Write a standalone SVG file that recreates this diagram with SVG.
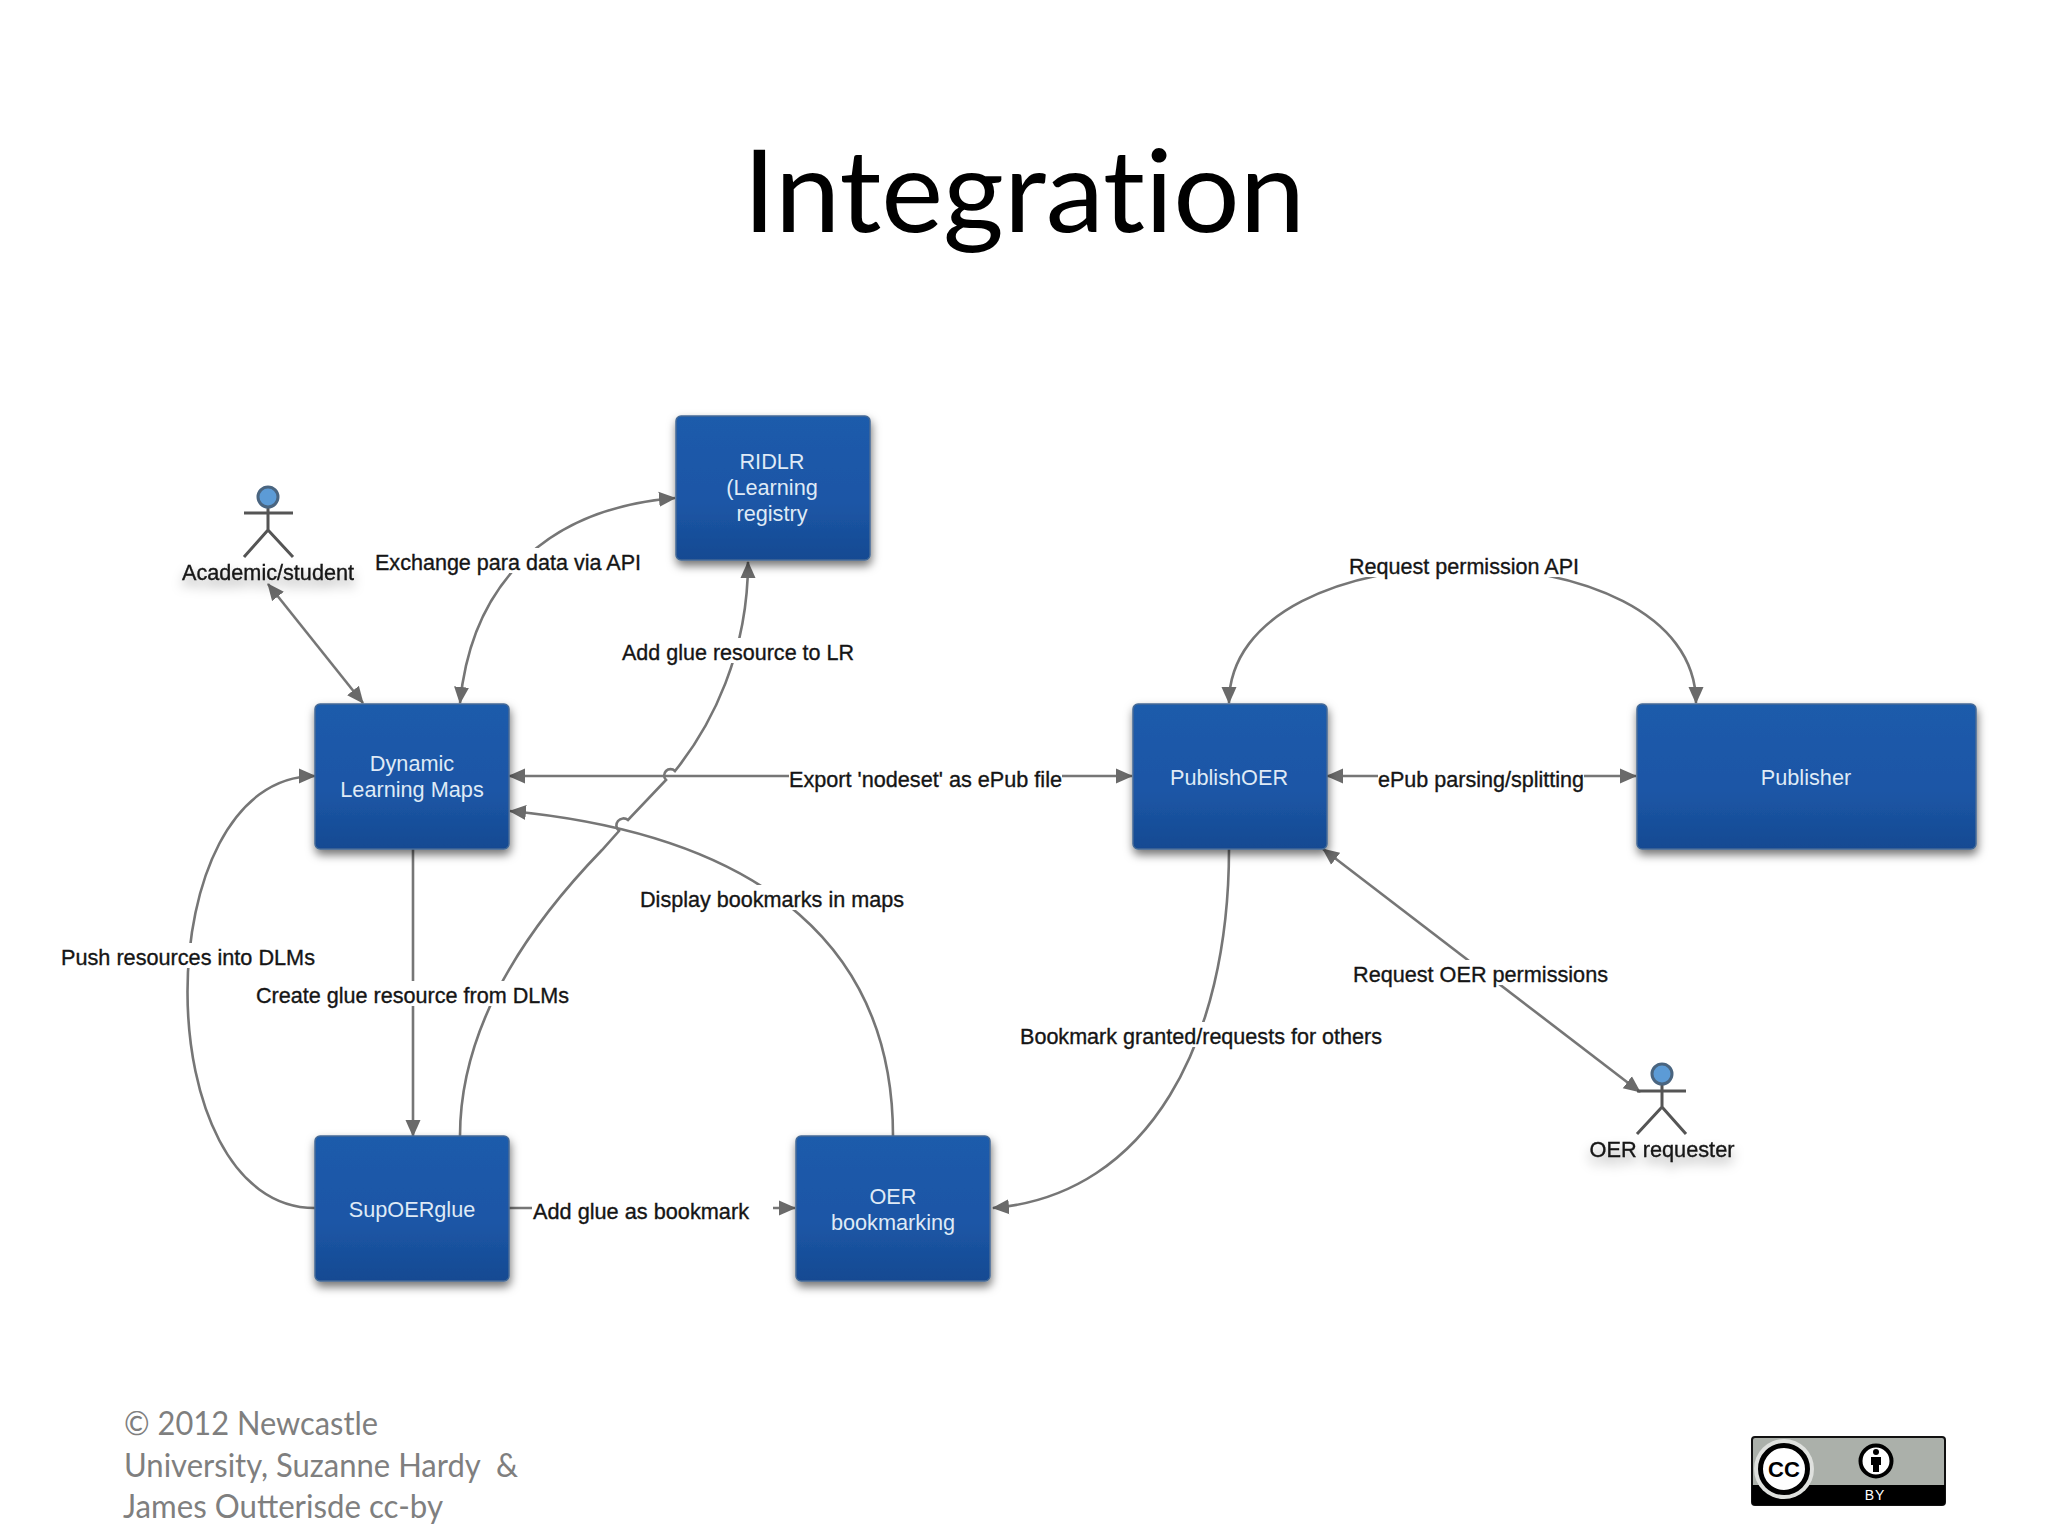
<svg xmlns="http://www.w3.org/2000/svg" width="2048" height="1536" viewBox="0 0 2048 1536">
<style>
.box{fill:url(#bg);stroke:#456a96;stroke-width:1.5;filter:url(#sh)}
.w{font:21.7px "Liberation Sans",Arial,sans-serif;fill:#dfeaf6;text-anchor:middle}
.l{font:22px "Liberation Sans",Arial,sans-serif;fill:#151515;stroke:#151515;stroke-width:.35}
.c{fill:none;stroke:#767676;stroke-width:2.6}
.a{marker-end:url(#ah)}
.b{marker-start:url(#as);marker-end:url(#ah)}
.bgr{fill:#fff}
.act{fill:none;stroke:#555;stroke-width:3}
.head{fill:#5c9bd6;stroke:#4a6580;stroke-width:3}
.f{font:32px "Lato","Open Sans",sans-serif;fill:#7f7f7f}
</style>
<defs>
<linearGradient id="bg" x1="0" y1="0" x2="0" y2="1"><stop offset="0" stop-color="#1f5bab"/><stop offset=".6" stop-color="#1c56a6"/><stop offset="1" stop-color="#154a92"/></linearGradient>
<filter id="sh" x="-15%" y="-15%" width="130%" height="135%"><feDropShadow dx="1" dy="5" stdDeviation="5" flood-color="#000" flood-opacity=".55"/></filter>
<filter id="ts" x="-15%" y="-40%" width="130%" height="220%"><feDropShadow dx="0" dy="7" stdDeviation="6" flood-color="#000" flood-opacity=".35"/></filter>
<marker id="ah" markerUnits="userSpaceOnUse" markerWidth="18" markerHeight="16" refX="16" refY="8" orient="auto"><path d="M0 0.5L17 8L0 15.5Z" fill="#6a6a6a"/></marker>
<marker id="as" markerUnits="userSpaceOnUse" markerWidth="18" markerHeight="16" refX="2" refY="8" orient="auto"><path d="M18 0.5L1 8L18 15.5Z" fill="#6a6a6a"/></marker>
</defs>
<rect width="2048" height="1536" fill="#fff"/>
<text id="title" x="1024" y="232" textLength="562" lengthAdjust="spacingAndGlyphs" text-anchor="middle" style="font:115px 'Lato','Open Sans',sans-serif;font-variant-ligatures:none;fill:#000">Integration</text>
<g id="connectors">
<path class="c a" d="M460 1136C460 1040 510 945 602 850L619 831A5 5 0 0 1 628 820L666 780A5.5 5.5 0 0 1 675 771C712 725 748 653 748 562"/>
<path class="c a" d="M893 1136C893 953 770 836 510 811"/>
<path class="c b" d="M460 703C470 600 530 510 675 498"/>
<path class="c a" d="M315 1208C145 1208 145 776 315 776"/>
<path class="c a" d="M413 849V1136"/>
<path class="c a" d="M509 1208H795"/>
<path class="c b" d="M509 776H1132"/>
<path class="c b" d="M1327 776H1636"/>
<path class="c b" d="M1229 703C1229 522 1696 522 1696 703"/>
<path class="c a" d="M1229 849C1229 1040 1150 1195 993 1208"/>
<path class="c b" d="M1323 849L1640 1092"/>
<path class="c b" d="M268 584L363 703"/>
<rect class="bgr" x="375" y="548" width="266" height="25"/>
<rect class="bgr" x="622" y="638" width="232" height="25"/>
<rect class="bgr" x="640" y="885" width="264" height="25"/>
<rect class="bgr" x="61" y="943" width="254" height="25"/>
<rect class="bgr" x="256" y="981" width="313" height="25"/>
<rect class="bgr" x="532" y="1198" width="241" height="25"/>
<rect class="bgr" x="789" y="765" width="273" height="25"/>
<rect class="bgr" x="1378" y="765" width="206" height="25"/>
<rect class="bgr" x="1349" y="553" width="231" height="24"/>
<rect class="bgr" x="1353" y="960" width="255" height="25"/>
<rect class="bgr" x="1020" y="1022" width="362" height="25"/>
</g>
<g id="labels">
<text class="l" x="375" y="570" textLength="266" lengthAdjust="spacingAndGlyphs">Exchange para data via API</text>
<text class="l" x="622" y="660" textLength="232" lengthAdjust="spacingAndGlyphs">Add glue resource to LR</text>
<text class="l" x="640" y="907" textLength="264" lengthAdjust="spacingAndGlyphs">Display bookmarks in maps</text>
<text class="l" x="61" y="965" textLength="254" lengthAdjust="spacingAndGlyphs">Push resources into DLMs</text>
<text class="l" x="256" y="1003" textLength="313" lengthAdjust="spacingAndGlyphs">Create glue resource from DLMs</text>
<text class="l" x="533" y="1219" textLength="216" lengthAdjust="spacingAndGlyphs">Add glue as bookmark</text>
<text class="l" x="789" y="787" textLength="273" lengthAdjust="spacingAndGlyphs">Export 'nodeset' as ePub file</text>
<text class="l" x="1378" y="787" textLength="206" lengthAdjust="spacingAndGlyphs">ePub parsing/splitting</text>
<text class="l" x="1349" y="574" textLength="230" lengthAdjust="spacingAndGlyphs">Request permission API</text>
<text class="l" x="1353" y="982" textLength="255" lengthAdjust="spacingAndGlyphs">Request OER permissions</text>
<text class="l" x="1020" y="1044" textLength="362" lengthAdjust="spacingAndGlyphs">Bookmark granted/requests for others</text>
</g>
<g id="ridlr"><rect class="box" x="676" y="416" width="194" height="144" rx="5"/><text class="w" x="772" y="469">RIDLR</text><text class="w" x="772" y="495">(Learning</text><text class="w" x="772" y="521">registry</text></g>
<g id="dlm"><rect class="box" x="315" y="704" width="194" height="145" rx="5"/><text class="w" x="412" y="771">Dynamic</text><text class="w" x="412" y="797">Learning Maps</text></g>
<g id="publishoer"><rect class="box" x="1133" y="704" width="194" height="145" rx="5"/><text class="w" x="1229" y="785">PublishOER</text></g>
<g id="publisher"><rect class="box" x="1637" y="704" width="339" height="145" rx="5"/><text class="w" x="1806" y="785">Publisher</text></g>
<g id="supoerglue"><rect class="box" x="315" y="1136" width="194" height="145" rx="5"/><text class="w" x="412" y="1217">SupOERglue</text></g>
<g id="oerbookmarking"><rect class="box" x="796" y="1136" width="194" height="145" rx="5"/><text class="w" x="893" y="1204">OER</text><text class="w" x="893" y="1230">bookmarking</text></g>
<g id="academic"><path class="act" d="M268 507V530M244 513H293M268 530L244 557M268 530L293 557"/><circle class="head" cx="268" cy="497" r="10"/><text class="l" x="268" y="580" text-anchor="middle" textLength="172" lengthAdjust="spacingAndGlyphs" filter="url(#ts)">Academic/student</text></g>
<g id="oerrequester"><path class="act" d="M1662 1084V1107M1637 1091H1686M1662 1107L1637 1134M1662 1107L1686 1134"/><circle class="head" cx="1662" cy="1074" r="10"/><text class="l" x="1662" y="1157" text-anchor="middle" textLength="145" lengthAdjust="spacingAndGlyphs" filter="url(#ts)">OER requester</text></g>
<g id="footer"><text class="f" x="124" y="1435" textLength="254" lengthAdjust="spacingAndGlyphs">© 2012 Newcastle</text><text class="f" x="124" y="1477" textLength="394" lengthAdjust="spacingAndGlyphs" xml:space="preserve">University, Suzanne Hardy  &amp;</text><text class="f" x="123" y="1518" textLength="320" lengthAdjust="spacingAndGlyphs">James Outterisde cc-by</text></g>
<g id="ccby">
<rect x="1752" y="1437" width="193" height="68" rx="3" fill="#abb0aa" stroke="#111" stroke-width="2"/>
<path d="M1752 1485H1945V1502a3 3 0 0 1-3 3H1755a3 3 0 0 1-3-3Z" fill="#000"/>
<circle cx="1784" cy="1469" r="30" fill="#dfe1de"/>
<circle cx="1784" cy="1469" r="23.5" fill="#fff" stroke="#000" stroke-width="5"/>
<text x="1784" y="1477" text-anchor="middle" style="font:bold 22px 'Liberation Sans',sans-serif;fill:#000">CC</text>
<circle cx="1876" cy="1461" r="15.5" fill="#fff" stroke="#000" stroke-width="4"/>
<circle cx="1876" cy="1452" r="3" fill="#000"/><path d="M1871 1457H1881V1465H1879V1472H1873V1465H1871Z" fill="#000"/>
<text x="1875" y="1500" text-anchor="middle" style="font:14px 'Liberation Sans',sans-serif;fill:#fff;letter-spacing:1px">BY</text>
</g>
</svg>
